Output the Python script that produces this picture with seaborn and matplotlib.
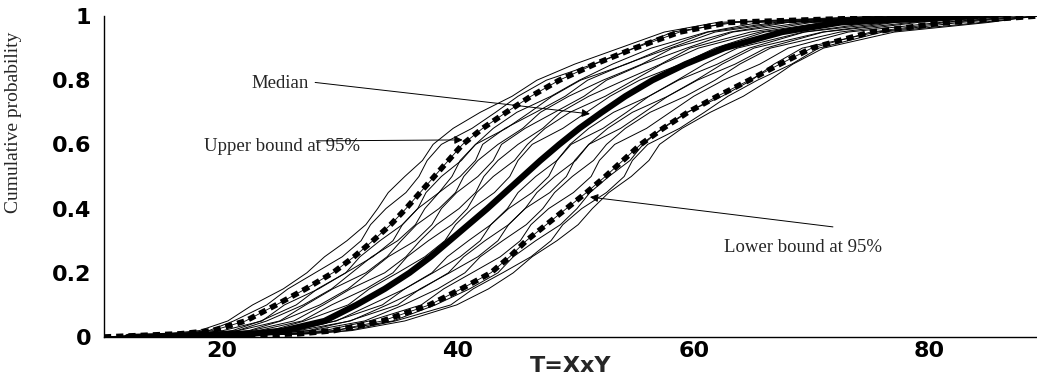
import numpy as np
import pandas as pd
import matplotlib
matplotlib.use("Agg")
import matplotlib.pyplot as plt
import seaborn as sns

# cumulative-probability levels at which each curve's x value (T) was read
levels = [0.0, 0.01, 0.02, 0.05, 0.1, 0.15, 0.2, 0.25, 0.3, 0.35, 0.4, 0.45,
          0.5, 0.55, 0.6, 0.65, 0.7, 0.75, 0.8, 0.85, 0.9, 0.95, 0.98, 1.0]

median_x = [12.0, 22.5, 25.2, 28.7, 31.4, 33.8, 35.9, 37.7, 39.3, 40.9, 42.5, 44.0,
            45.5, 47.0, 48.6, 50.3, 52.2, 54.2, 56.5, 59.3, 62.6, 67.5, 72.5, 84.0]
upper_x = [10.0, 16.5, 19.2, 22.0, 24.6, 27.1, 29.4, 31.2, 32.8, 34.3, 35.6, 36.8,
           38.0, 39.2, 40.4, 42.1, 44.1, 46.2, 48.6, 51.6, 55.0, 58.8, 63.0, 80.0]
lower_x = [16.0, 26.5, 29.5, 33.6, 37.6, 40.3, 42.8, 44.4, 45.8, 47.5, 49.2, 50.9,
           52.5, 54.0, 55.5, 57.4, 59.5, 62.0, 64.7, 67.3, 70.0, 75.0, 81.5, 89.1]

sim_x = [
    [10.0, 15.3, 18.1, 20.5, 22.6, 25.2, 27.2, 28.7, 30.6, 32.2, 33.2, 34.1, 35.5, 37.0, 37.9, 39.6, 41.9, 44.6, 46.7, 49.9, 53.7, 57.5, 62.0, 76.0],
    [10.0, 16.2, 18.9, 21.0, 23.8, 25.6, 27.9, 30.2, 31.8, 32.6, 33.9, 35.6, 36.7, 37.4, 38.6, 41.2, 43.2, 45.1, 47.5, 51.5, 54.9, 58.2, 63.5, 77.0],
    [10.5, 17.3, 20.1, 23.4, 25.3, 28.2, 30.5, 31.7, 33.4, 35.3, 36.6, 37.3, 38.6, 40.3, 41.5, 43.0, 45.0, 47.9, 50.3, 53.1, 56.4, 61.1, 65.6, 78.0],
    [11.0, 18.0, 20.9, 23.3, 26.3, 28.1, 30.5, 32.8, 34.5, 35.3, 36.6, 38.4, 39.5, 40.2, 41.5, 44.1, 46.1, 48.0, 50.4, 54.3, 57.5, 61.2, 66.9, 79.0],
    [11.0, 18.4, 21.3, 23.8, 26.9, 29.3, 31.0, 32.7, 34.9, 36.4, 37.2, 38.4, 40.2, 41.5, 42.1, 44.0, 46.6, 49.1, 51.0, 54.2, 58.0, 61.8, 67.6, 79.5],
    [11.5, 18.6, 21.4, 24.9, 27.1, 29.4, 32.2, 34.0, 35.2, 36.5, 38.4, 39.8, 40.5, 41.7, 43.4, 45.5, 47.0, 49.4, 52.3, 55.6, 58.2, 63.1, 68.0, 80.0],
    [12.0, 19.4, 22.3, 25.0, 28.3, 30.7, 32.4, 34.1, 36.4, 37.8, 38.6, 39.9, 41.7, 43.0, 43.7, 45.7, 48.2, 50.7, 52.6, 55.7, 59.4, 63.3, 69.4, 81.0],
    [12.0, 19.6, 22.5, 26.1, 28.6, 30.9, 33.8, 35.6, 36.8, 38.2, 40.1, 41.5, 42.2, 43.4, 45.1, 47.2, 48.7, 51.1, 54.1, 57.2, 59.7, 64.8, 70.0, 81.5],
    [12.5, 20.1, 23.1, 26.8, 29.3, 32.2, 34.5, 35.7, 37.5, 39.5, 40.8, 41.6, 43.0, 44.8, 45.9, 47.4, 49.5, 52.5, 54.9, 57.3, 60.4, 65.6, 71.0, 82.0],
    [13.0, 21.0, 24.1, 27.0, 30.7, 32.5, 34.9, 37.2, 38.9, 39.8, 41.2, 43.1, 44.4, 45.1, 46.3, 48.9, 50.9, 52.9, 55.4, 58.9, 61.8, 66.0, 72.7, 83.0],
    [14.0, 22.3, 25.5, 29.7, 32.6, 35.5, 37.8, 39.1, 40.9, 42.8, 44.2, 45.1, 46.6, 48.4, 49.5, 51.1, 53.2, 56.2, 58.6, 60.9, 63.7, 69.3, 75.3, 85.0],
    [14.0, 22.9, 26.3, 29.6, 33.6, 35.5, 37.9, 40.2, 41.9, 42.8, 44.3, 46.3, 47.7, 48.4, 49.6, 52.3, 54.3, 56.2, 58.7, 62.0, 64.7, 69.4, 76.6, 85.5],
    [14.5, 23.2, 26.5, 30.9, 34.0, 36.9, 39.2, 40.5, 42.3, 44.3, 45.7, 46.7, 48.2, 50.0, 51.1, 52.7, 54.8, 57.8, 60.2, 62.4, 65.1, 70.9, 77.1, 86.0],
    [15.0, 23.9, 27.3, 30.8, 34.9, 36.8, 39.3, 41.7, 43.4, 44.3, 45.7, 47.8, 49.2, 49.9, 51.1, 53.8, 55.8, 57.8, 60.3, 63.5, 66.1, 71.0, 78.4, 86.5],
    [15.0, 24.3, 27.6, 32.1, 35.4, 38.3, 40.6, 41.9, 43.8, 45.8, 47.2, 48.2, 49.7, 51.5, 52.6, 54.2, 56.3, 59.3, 61.8, 63.9, 66.5, 72.4, 79.0, 87.0],
    [15.5, 25.2, 28.7, 32.5, 36.9, 38.8, 41.2, 43.6, 45.3, 46.2, 47.7, 49.8, 51.3, 52.0, 53.3, 56.0, 58.0, 60.0, 62.5, 65.6, 68.0, 73.1, 80.9, 88.0],
    [16.0, 26.0, 29.6, 34.5, 38.1, 41.0, 43.4, 44.7, 46.6, 48.7, 50.1, 51.2, 52.8, 54.6, 55.7, 57.3, 59.4, 62.4, 64.9, 66.8, 69.2, 75.5, 82.6, 89.1],
    [16.5, 27.0, 30.7, 34.7, 39.4, 41.3, 43.8, 46.2, 47.9, 48.9, 50.5, 52.6, 54.1, 54.8, 56.1, 58.8, 60.9, 62.9, 65.4, 68.3, 70.6, 76.0, 84.4, 89.1],
    [17.0, 27.4, 31.0, 35.5, 39.9, 42.6, 44.7, 46.3, 48.4, 50.2, 51.4, 52.8, 54.7, 56.2, 57.1, 59.0, 61.4, 64.2, 66.4, 68.4, 71.0, 77.0, 85.0, 89.1],
]

x_ticks = [20, 40, 60, 80]
y_ticks = [0, 0.2, 0.4, 0.6, 0.8, 1]
y_tick_labels = ["0", "0.2", "0.4", "0.6", "0.8", "1"]

sns.set_theme(style="white")
plt.rcParams["font.family"] = ["DejaVu Sans"]

fig = plt.figure(figsize=(10.37, 3.81), dpi=100)
ax = fig.add_axes([104 / 1037, 1 - 337 / 381, 1 - 104 / 1037, 321 / 381])

rows = []
for i, xs in enumerate(sim_x):
    for lv, xv in zip(levels, xs):
        rows.append({"run": i, "T": xv, "p": lv})
sims = pd.DataFrame(rows)

sns.lineplot(data=sims, x="T", y="p", units="run", estimator=None, sort=False,
             color="black", lw=0.7, ax=ax, legend=False)

med = pd.DataFrame({"T": median_x, "p": levels})
up = pd.DataFrame({"T": upper_x, "p": levels})
lo = pd.DataFrame({"T": lower_x, "p": levels})

for df in (up, lo):
    sns.lineplot(data=df, x="T", y="p", sort=False, color="black", lw=0.6, ax=ax)
    l = sns.lineplot(data=df, x="T", y="p", sort=False, color="black", lw=4.0, ax=ax)
    l.lines[-1].set_dashes((1.3, 0.9))
sns.lineplot(data=med, x="T", y="p", sort=False, color="black", lw=4.5, ax=ax)

ax.set_xlim(10, 89.1)
ax.set_ylim(0, 1)
ax.set_xticks(x_ticks)
ax.set_yticks(y_ticks)
ax.set_yticklabels(y_tick_labels)
ax.tick_params(axis="both", which="major", direction="in", labelsize=16,
               colors="black", width=0.8)
ax.tick_params(axis="y", length=6.5, pad=9)
ax.tick_params(axis="x", length=3, pad=3)
for lab in ax.get_xticklabels() + ax.get_yticklabels():
    lab.set_fontweight("bold")

for s in ("top", "right"):
    ax.spines[s].set_visible(False)
for s in ("left", "bottom"):
    ax.spines[s].set_color("black")
    ax.spines[s].set_linewidth(1.0)

ax.set_xlabel("T=XxY", fontsize=16, fontweight="bold", labelpad=-4)
ax.set_ylabel("Cumulative probability", fontsize=14, family=["Liberation Serif"])
ax.yaxis.set_label_coords(-0.088, 0.67)

serif = ["Liberation Serif"]
arrow = dict(arrowstyle="-|>", lw=0.7, color="black", mutation_scale=12,
             shrinkA=0, shrinkB=0)
ax.text(22.5, 0.79, "Median", fontsize=13.5, family=serif, ha="left", va="center")
ax.annotate("", xy=(51.2, 0.695), xytext=(27.9, 0.793), arrowprops=arrow)
ax.text(18.5, 0.595, "Upper bound at 95%", fontsize=13.5, family=serif, ha="left", va="center")
ax.annotate("", xy=(40.4, 0.614), xytext=(28.0, 0.611), arrowprops=arrow)
ax.text(62.6, 0.28, "Lower bound at 95%", fontsize=13.5, family=serif, ha="left", va="center")
ax.annotate("", xy=(51.2, 0.436), xytext=(71.8, 0.343), arrowprops=arrow)

fig.savefig("out.png", dpi=100)
